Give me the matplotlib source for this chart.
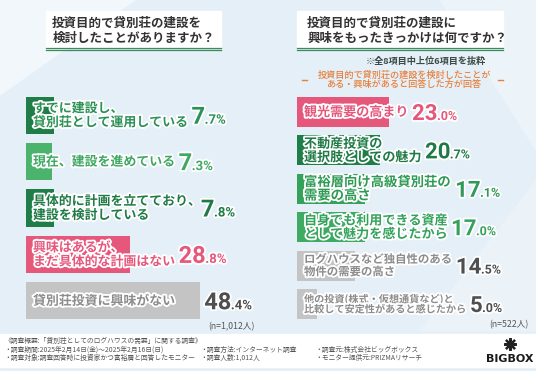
import matplotlib
matplotlib.use("Agg")
import matplotlib.pyplot as plt
import matplotlib.patheffects as pe
from matplotlib.patches import Rectangle, Polygon
import numpy as np

plt.rcParams['font.family'] = ['Noto Sans CJK JP', 'DejaVu Sans']

W, H = 536, 371

# left question
left_title = "投資目的で貸別荘の建設を\n検討したことがありますか？"
left_labels = ["すでに建設し、\n貸別荘として運用している",
               "現在、建設を進めている",
               "具体的に計画を立てており、\n建設を検討している",
               "興味はあるが、\nまだ具体的な計画はない",
               "貸別荘投資に興味がない"]
left_values = [7.7, 7.3, 7.8, 28.8, 48.4]
left_n = "(n=1,012人)"

# right question
right_title = "投資目的で貸別荘の建設に\n興味をもったきっかけは何ですか？"
right_note = "※全8項目中上位6項目を抜粋"
right_sub = "投資目的で貸別荘の建設を検討したことが\nある・興味があると回答した方が回答"
right_labels = ["観光需要の高まり",
                "不動産投資の\n選択肢としての魅力",
                "富裕層向け高級貸別荘の\n需要の高さ",
                "自身でも利用できる資産\nとして魅力を感じたから",
                "ログハウスなど独自性のある\n物件の需要の高さ",
                "他の投資(株式・仮想通貨など)と\n比較して安定性があると感じたから"]
right_values = [23.0, 20.7, 17.1, 17.0, 14.5, 5.0]
right_n = "(n=522人)"

footer = ["《調査概要:「貸別荘としてのログハウスの需要」に関する調査》",
          "・調査期間:2025年2月14日(金)〜2025年2月16日(日)",
          "・調査方法:インターネット調査",
          "・調査元:株式会社ビッグボックス",
          "・調査対象:調査回答時に投資家かつ富裕層と回答したモニター",
          "・調査人数:1,012人",
          "・モニター提供元:PRIZMAリサーチ"]

DG = "#1f7d47"
MG = "#4cb36c"
PK = "#e5587c"
GR = "#c4c4c4"
left_bar_colors = [DG, MG, DG, PK, GR]
left_txt_colors = ["#2c9155", "#3fa862", "#1f7a45", PK, "#8c8c8c"]
left_pct_colors = ["#2c9155", "#3fa862", "#1f7a45", PK, "#4f4f4f"]
right_bar_colors = [PK, DG, "#35a25c", "#3fab62", GR, GR]
right_txt_colors = [PK, "#1f7a45", "#2e9a55", "#35a25c", "#8c8c8c", "#8c8c8c"]
right_pct_colors = [PK, "#1f7a45", "#2e9a55", "#35a25c", "#4f4f4f", "#4f4f4f"]
right_lbl_sizes = [9.4, 9.4, 9.6, 9.4, 8.2, 7.3]
num_font = ["Liberation Sans Narrow", "Roboto", "DejaVu Sans"]

fig = plt.figure(figsize=(W / 100, H / 100), dpi=100)
bg = fig.add_axes([0, 0, 1, 1])
bg.set_xlim(0, W)
bg.set_ylim(H, 0)
bg.axis("off")
bg.add_patch(Rectangle((0, 0), W, H, color="#e4eff7", zorder=0))
bg.add_patch(Polygon([(0, 0), (135, 0), (0, 95)], color="#f1f7fb", zorder=0))
bg.add_patch(Polygon([(440, 0), (536, 0), (536, 150)], color="#ecf4fa", zorder=0))
bg.add_patch(Polygon([(536, 180), (536, 330), (420, 330)], color="#ebf3f9", zorder=0))

# footer band
bg.add_patch(Rectangle((0, 334), W, 33, color="white", zorder=1))

# bar axes
axL = fig.add_axes([26 / W, (H - 324) / H, 216 / W, 232 / H])
axR = fig.add_axes([297 / W, (H - 323.2) / H, 200 / W, 230.4 / H])
for ax in (axL, axR):
    ax.set_facecolor("none")
    ax.axis("off")

axL.barh(np.arange(len(left_values)), left_values, height=0.8, color=left_bar_colors)
axL.set_xlim(0, 60)
axL.set_ylim(len(left_values) - 0.5, -0.5)
axR.barh(np.arange(len(right_values)), right_values, height=0.78, color=right_bar_colors)
axR.set_xlim(0, 50)
axR.set_ylim(len(right_values) - 0.5, -0.5)

# text layer on top of the bars
fg = fig.add_axes([0, 0, 1, 1])
fg.set_xlim(0, W)
fg.set_ylim(H, 0)
fg.axis("off")
fg.set_facecolor("none")

halo = [pe.Stroke(linewidth=2.6, foreground="white"), pe.Normal()]

# title boxes
for x0, x1, title in [(46, 221, left_title), (297, 503, right_title)]:
    bg.add_patch(Rectangle((x0, 11), x1 - x0, 36, color="white", zorder=1))
    bg.plot([x0, x1], [47.8, 47.8], color="#3c8a5c", lw=0.9, zorder=2)
    bg.plot([x0, x1], [50.3, 50.3], color="#3c8a5c", lw=0.9, zorder=2)
fg.text(133.5, 30.5, left_title, ha="center", va="center", multialignment="left",
        fontsize=9, fontweight="bold", color="#333333", linespacing=1.25)
fg.text(307, 30.5, right_title, ha="left", va="center",
        fontsize=9, fontweight="bold", color="#333333", linespacing=1.25)

fg.text(426, 61, right_note, ha="center", va="center", fontsize=6.6,
        fontweight="bold", color="#3b4a42")
fg.text(404, 79.5, right_sub, ha="center", va="center", fontsize=6.6,
        fontweight="medium", color="#e8803c", linespacing=1.1)
fg.plot([302, 307], [80, 80], color="#e8803c", lw=1)
fg.plot([498, 503], [80, 80], color="#e8803c", lw=1)

r = fig.canvas.get_renderer()


def px(ax, x, y):
    dx, dy = ax.transData.transform((x, y))
    return dx, H - dy


def draw_pct(x, yc, value, color, big, small):
    whole, frac = f"{value:.1f}".split(".")
    cap = big * 100 / 72 * 0.72
    base = yc + cap / 2
    t = fg.text(x, base, whole, fontsize=big, fontweight="bold", family=num_font,
                color=color, ha="left", va="baseline", path_effects=halo)
    bb = t.get_window_extent(r)
    fg.text(bb.x1 - 0.5, base, "." + frac + "%", fontsize=small, fontweight="bold",
            family=num_font, color=color, ha="left", va="baseline",
            path_effects=halo)


def draw_rows(ax, labels, values, txt_colors, pct_colors, sizes, big, small, lsp):
    for i, (lab, v) in enumerate(zip(labels, values)):
        x0, yc = px(ax, 0, i)
        xe, _ = px(ax, v, i)
        t = fg.text(x0 + 7, yc, lab, fontsize=sizes[i], fontweight="bold", color=txt_colors[i],
                    ha="left", va="center", linespacing=lsp, path_effects=halo)
        bb = t.get_window_extent(r)
        end = bb.x1
        # a trailing "、" on the longest line leaves some empty space on its right
        longest = max(lab.split("\n"), key=len)
        if longest.endswith("、"):
            end -= 3.5
        draw_pct(max(end, xe) + 4, yc, v, pct_colors[i], big, small)


draw_rows(axL, left_labels, left_values, left_txt_colors, left_pct_colors,
          [9.3] * len(left_labels), 17, 9.5, 1.0)
draw_rows(axR, right_labels, right_values, right_txt_colors, right_pct_colors,
          right_lbl_sizes, 16, 9, 0.95)

fg.text(255, 327, left_n, ha="right", va="center", fontsize=6.3, color="#555555")
fg.text(529, 325, right_n, ha="right", va="center", fontsize=6.3, color="#555555")

# footer text
fs = 4.9
fc = "#555555"
fg.text(4, 341, footer[0], fontsize=fs, color=fc, va="center")
fg.text(4, 350, footer[1], fontsize=fs, color=fc, va="center")
fg.text(200, 350, footer[2], fontsize=fs, color=fc, va="center")
fg.text(315, 350, footer[3], fontsize=fs, color=fc, va="center")
fg.text(4, 358, footer[4], fontsize=fs, color=fc, va="center")
fg.text(200, 358, footer[5], fontsize=fs, color=fc, va="center")
fg.text(315, 358, footer[6], fontsize=fs, color=fc, va="center")

# logo
fg.plot([510], [344], marker=(8, 2, 0), markersize=9, color="#222222", mew=1.6)
fg.text(510, 359, "BIGBOX", ha="center", va="center", fontsize=8, fontweight="bold",
        family=["DejaVu Sans"], color="#1a1a1a")

fig.savefig("out.png", dpi=100)
